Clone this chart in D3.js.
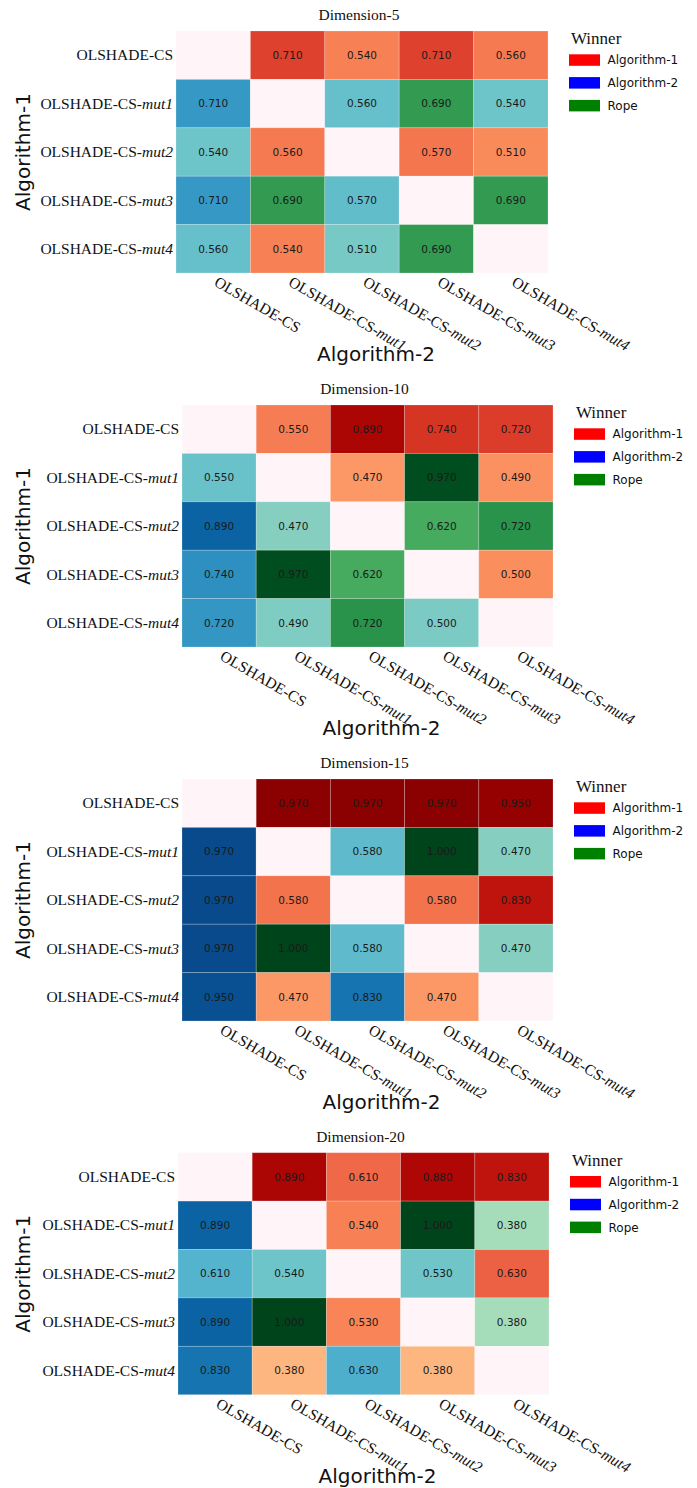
<!DOCTYPE html>
<html>
<head>
<meta charset="utf-8">
<script src="https://cdn.jsdelivr.net/npm/d3@7"></script>
<style>
  html, body { margin: 0; padding: 0; background: #fff; }
  svg { display: block; }
</style>
</head>
<body>
<svg id="chart" width="697" height="1488"></svg>
<script>
// Pairwise comparison of the OLSHADE-CS variants (row = Algorithm-1, column = Algorithm-2).
const algorithms = ["OLSHADE-CS", "OLSHADE-CS-mut1", "OLSHADE-CS-mut2", "OLSHADE-CS-mut3", "OLSHADE-CS-mut4"];
const dimensions = ["Dimension-5", "Dimension-10", "Dimension-15", "Dimension-20"];
const winnerKeys = ["A1", "A2", "R"];
const winnerLabels = ["Algorithm-1", "Algorithm-2", "Rope"];

// probabilities of the winning outcome
const values5 = [
  [null, 0.71, 0.54, 0.71, 0.56],
  [0.71, null, 0.56, 0.69, 0.54],
  [0.54, 0.56, null, 0.57, 0.51],
  [0.71, 0.69, 0.57, null, 0.69],
  [0.56, 0.54, 0.51, 0.69, null]
];
const winners5 = [
  ["", "A1", "A1", "A1", "A1"],
  ["A2", "", "A2", "R", "A2"],
  ["A2", "A1", "", "A1", "A1"],
  ["A2", "R", "A2", "", "R"],
  ["A2", "A1", "A2", "R", ""]
];
const values10 = [
  [null, 0.55, 0.89, 0.74, 0.72],
  [0.55, null, 0.47, 0.97, 0.49],
  [0.89, 0.47, null, 0.62, 0.72],
  [0.74, 0.97, 0.62, null, 0.50],
  [0.72, 0.49, 0.72, 0.50, null]
];
const winners10 = [
  ["", "A1", "A1", "A1", "A1"],
  ["A2", "", "A1", "R", "A1"],
  ["A2", "A2", "", "R", "R"],
  ["A2", "R", "R", "", "A1"],
  ["A2", "A2", "R", "A2", ""]
];
const values15 = [
  [null, 0.97, 0.97, 0.97, 0.95],
  [0.97, null, 0.58, 1.00, 0.47],
  [0.97, 0.58, null, 0.58, 0.83],
  [0.97, 1.00, 0.58, null, 0.47],
  [0.95, 0.47, 0.83, 0.47, null]
];
const winners15 = [
  ["", "A1", "A1", "A1", "A1"],
  ["A2", "", "A2", "R", "A2"],
  ["A2", "A1", "", "A1", "A1"],
  ["A2", "R", "A2", "", "A2"],
  ["A2", "A1", "A2", "A1", ""]
];
const values20 = [
  [null, 0.89, 0.61, 0.88, 0.83],
  [0.89, null, 0.54, 1.00, 0.38],
  [0.61, 0.54, null, 0.53, 0.63],
  [0.89, 1.00, 0.53, null, 0.38],
  [0.83, 0.38, 0.63, 0.38, null]
];
const winners20 = [
  ["", "A1", "A1", "A1", "A1"],
  ["A2", "", "A1", "R", "A2"],
  ["A2", "A2", "", "A2", "A1"],
  ["A2", "R", "A1", "", "A2"],
  ["A2", "A1", "A2", "A1", ""]
];

const panelValues = [values5, values10, values15, values20];
const panelWinners = [winners5, winners10, winners15, winners20];

// panel placement
const panelLayout = [
  { left: 176, top: 31, cw: 74.4, ch: 48.4 },
  { left: 182, top: 405, cw: 74.2, ch: 48.4 },
  { left: 182, top: 779, cw: 74.2, ch: 48.4 },
  { left: 178, top: 1152.7, cw: 74.2, ch: 48.4 }
];

const colorMaps = {
  A1: d3.scaleSequential(d3.interpolateOrRd).domain([0, 1]),
  A2: d3.scaleSequential(d3.interpolateGnBu).domain([0, 1]),
  R: d3.scaleSequential(d3.interpolateGreens).domain([0, 1])
};
const legendColor = d3.scaleOrdinal().domain(winnerKeys).range(["#ff0000", "#0000ff", "#008000"]);
const diagonalColor = "#fff5f9";
const fmt = d3.format(".3f");

const serif = "'Liberation Serif', 'Times New Roman', serif";
const sans = "'DejaVu Sans', sans-serif";

const svg = d3.select("#chart");

// algorithm name with the mutation suffix in italics
function writeName(sel, name) {
  const m = name.match(/^(OLSHADE-CS)(-)?(mut\d)?$/);
  sel.append("tspan").text(m[1] + (m[2] || ""));
  if (m[3]) sel.append("tspan").attr("font-style", "italic").text(m[3]);
}

dimensions.forEach((dim, p) => {
  const L = panelLayout[p];
  const vals = panelValues[p];
  const wins = panelWinners[p];
  const width = L.cw * algorithms.length;
  const height = L.ch * algorithms.length;

  const x = d3.scaleBand().domain(algorithms).range([L.left, L.left + width]);
  const y = d3.scaleBand().domain(algorithms).range([L.top, L.top + height]);

  const g = svg.append("g");

  const cells = [];
  algorithms.forEach((r, i) => algorithms.forEach((c, j) => {
    cells.push({ row: r, col: c, value: vals[i][j], winner: wins[i][j] });
  }));

  g.selectAll("rect.cell").data(cells).join("rect")
    .attr("class", "cell")
    .attr("x", d => x(d.col))
    .attr("y", d => y(d.row))
    .attr("width", x.bandwidth())
    .attr("height", y.bandwidth())
    .attr("fill", d => d.value == null ? diagonalColor : colorMaps[d.winner](d.value))
    .attr("stroke", "rgba(255,255,255,0.25)")
    .attr("stroke-width", 0.8);

  g.selectAll("text.val").data(cells.filter(d => d.value != null)).join("text")
    .attr("class", "val")
    .attr("x", d => x(d.col) + x.bandwidth() / 2)
    .attr("y", d => y(d.row) + y.bandwidth() / 2)
    .attr("dy", "0.36em")
    .attr("text-anchor", "middle")
    .attr("font-family", sans)
    .attr("font-size", 10.5)
    .attr("fill", "#1a1a1a")
    .text(d => fmt(d.value));

  // title
  g.append("text")
    .attr("x", L.left + width / 2 - 3)
    .attr("y", L.top - 11)
    .attr("text-anchor", "middle")
    .attr("font-family", serif)
    .attr("font-size", 15.5)
    .attr("fill", "#111")
    .text(dim);

  // row labels
  algorithms.forEach(a => {
    const t = g.append("text")
      .attr("x", L.left - 3)
      .attr("y", y(a) + y.bandwidth() / 2)
      .attr("dy", "0.33em")
      .attr("text-anchor", "end")
      .attr("font-family", serif)
      .attr("font-size", 15.5)
      .attr("fill", "#111");
    writeName(t, a);
  });

  // column labels, slanted
  algorithms.forEach(a => {
    const cx = x(a) + x.bandwidth() / 2;
    const cy = L.top + height + 12;
    const t = g.append("text")
      .attr("transform", `translate(${cx},${cy}) rotate(30)`)
      .attr("text-anchor", "start")
      .attr("font-family", serif)
      .attr("font-size", 15.5)
      .attr("fill", "#111");
    writeName(t, a);
  });

  // axis titles
  g.append("text")
    .attr("x", L.left + width / 2 + 14)
    .attr("y", L.top + height + 88)
    .attr("text-anchor", "middle")
    .attr("font-family", sans)
    .attr("font-size", 20)
    .attr("fill", "#111")
    .text("Algorithm-2");

  g.append("text")
    .attr("transform", `translate(30,${L.top + height / 2}) rotate(-90)`)
    .attr("text-anchor", "middle")
    .attr("font-family", sans)
    .attr("font-size", 20)
    .attr("fill", "#111")
    .text("Algorithm-1");

  // legend
  const lx = L.left + width + 21;
  const lg = g.append("g");
  lg.append("text")
    .attr("x", lx + 2)
    .attr("y", L.top + 13)
    .attr("font-family", serif)
    .attr("font-size", 17)
    .attr("fill", "#111")
    .text("Winner");
  winnerKeys.forEach((k, i) => {
    const yy = L.top + 23.3 + i * 22.8;
    lg.append("rect")
      .attr("x", lx).attr("y", yy)
      .attr("width", 31).attr("height", 11.5)
      .attr("fill", legendColor(k));
    lg.append("text")
      .attr("x", lx + 38.5)
      .attr("y", yy + 5.8)
      .attr("dy", "0.36em")
      .attr("font-family", sans)
      .attr("font-size", 12)
      .attr("fill", "#111")
      .text(winnerLabels[i]);
  });
});
</script>
</body>
</html>
